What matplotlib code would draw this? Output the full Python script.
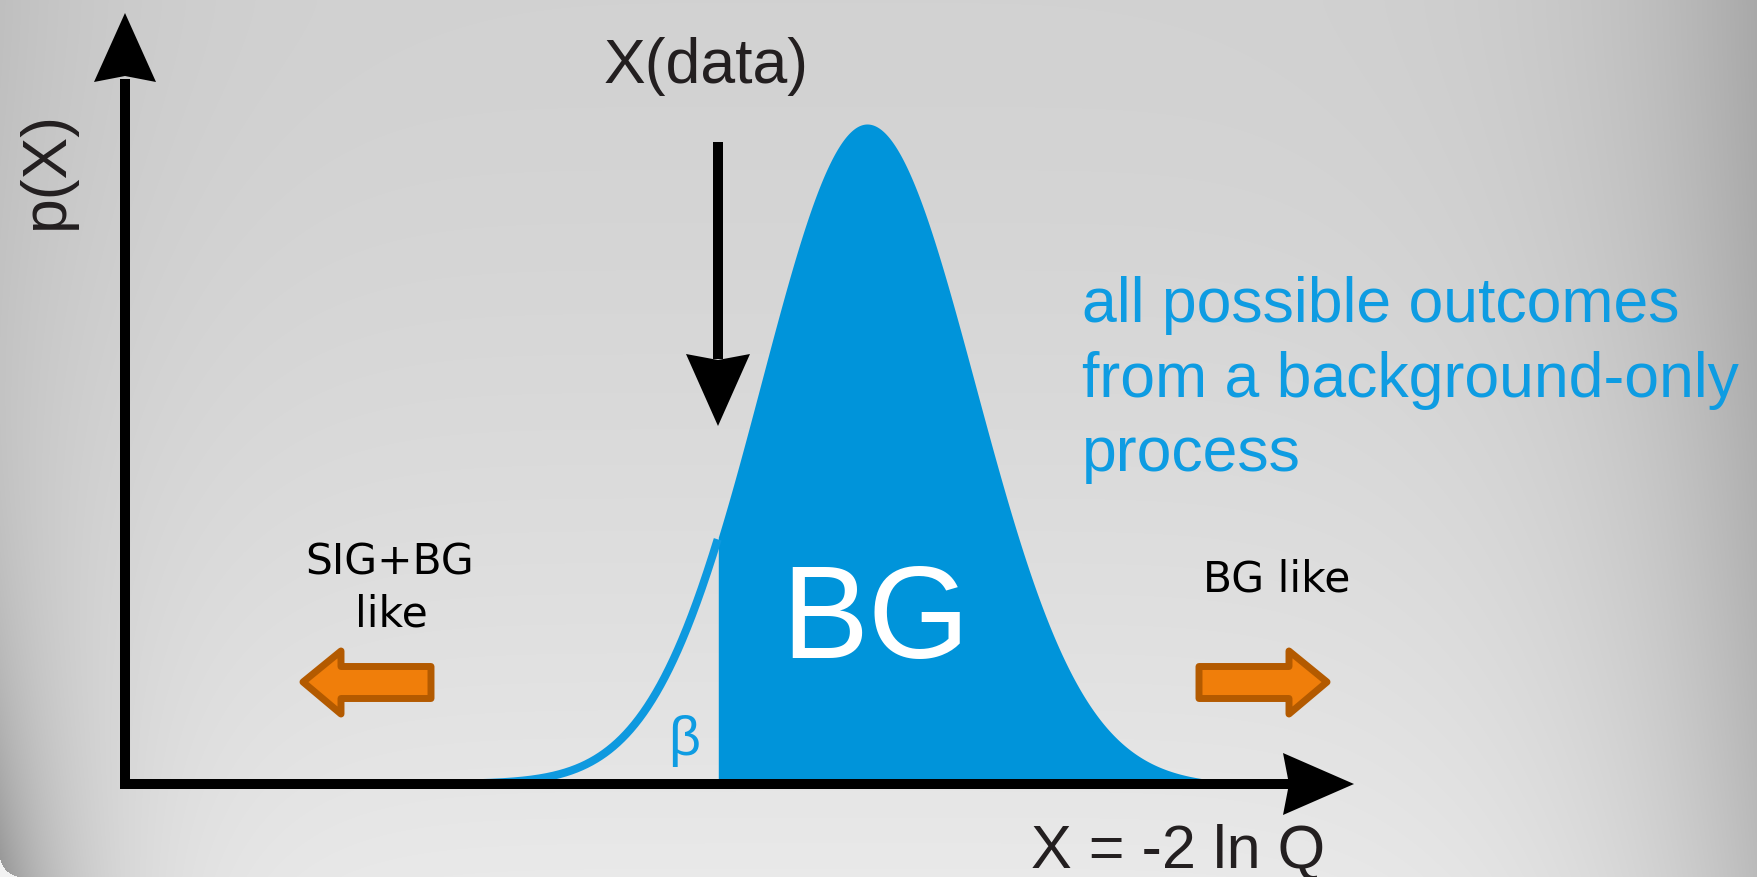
import numpy as np
import matplotlib
matplotlib.use("Agg")
import matplotlib.pyplot as plt
from matplotlib.patches import Polygon
from matplotlib.lines import Line2D

W, H, DPI = 1758, 878, 100

# Background-only distribution of the test statistic (split normal, peak normalised to 1)
bg_mean = 0.0
bg_sigma_left = 1.06
bg_sigma_right = 1.08
x_observed = -1.49          # X(data)
x_axis_start = -7.42
x_axis_end = 4.87

# Labels
y_label = "p(X)"
x_label = "X = -2 ln Q"
obs_label = "X(data)"
fill_label = "BG"
tail_label = "\u03b2"
left_label = ["SIG+BG", "like"]
right_label = "BG like"
note_lines = ["all possible outcomes", "from a background-only", "process"]

BLUE_FILL = "#0094DA"
BLUE_LINE = "#0E99DF"
BLUE_TEXT = "#0E9CE2"
DARK = "#231F20"
ORANGE = "#F07E0A"
ORANGE_EDGE = "#B35A00"
ARIAL = ["Liberation Sans", "DejaVu Sans"]
VERDANA = ["DejaVu Sans"]

fig = plt.figure(figsize=(W / DPI, H / DPI), dpi=DPI)

# ---- shaded backdrop -------------------------------------------------------
bg_ax = fig.add_axes([0, 0, 1, 1], zorder=0)
yy, xx = np.mgrid[0:H, 0:W] + 0.5
fx = 1 - 0.2 * np.abs((xx - 820) / 938) ** 6
fy = 0.90 + 0.10 * (yy / H) ** 1.5
corner = 0.25 * np.exp(-xx / 70) * (yy / H) ** 4
v = np.clip(0.915 * fx * fy - corner, 0, 1)
r = 22
outside = (xx < r) & (yy > H - r) & ((xx - r) ** 2 + (yy - (H - r)) ** 2 > r ** 2)
v[outside] = 0.95
bg_ax.imshow(np.dstack([v, v, v]), extent=(0, W, H, 0), aspect="auto", interpolation="bilinear")
bg_ax.set_xlim(0, W)
bg_ax.set_ylim(H, 0)
bg_ax.axis("off")

# ---- distribution ----------------------------------------------------------
ax = fig.add_axes([0, 0, 1, 1], zorder=1)
ax.patch.set_alpha(0)
ax.set_xlim(-8.67, 8.91)
ax.set_ylim(-0.14091, 1.18939)
ax.axis("off")

x = np.linspace(x_axis_start, x_axis_end, 2000)
sig = np.where(x < bg_mean, bg_sigma_left, bg_sigma_right)
pdf = np.exp(-0.5 * ((x - bg_mean) / sig) ** 2)

right = x >= x_observed
ax.fill_between(x[right], 0, pdf[right], color=BLUE_FILL, linewidth=0)
left = x <= x_observed
ax.plot(x[left], pdf[left], color=BLUE_LINE, lw=5.8, solid_capstyle="butt")


def to_px(xd, yd):
    dx, dy = ax.transData.transform((xd, yd))
    return dx, H - dy


# ---- overlay in pixel units ------------------------------------------------
ov = fig.add_axes([0, 0, 1, 1], zorder=2)
ov.patch.set_alpha(0)
ov.set_xlim(0, W)
ov.set_ylim(H, 0)
ov.axis("off")


def head(tip, d, length, half, notch, color="black"):
    tx, ty = tip
    dx, dy = d
    nx, ny = -dy, dx
    bx, by = tx - length * dx, ty - length * dy
    pts = [(tx, ty),
           (bx + half * nx, by + half * ny),
           (tx - (length - notch) * dx, ty - (length - notch) * dy),
           (bx - half * nx, by - half * ny)]
    ov.add_patch(Polygon(pts, closed=True, facecolor=color, edgecolor="none", zorder=5))


yaxis_x, _ = to_px(x_axis_start, 0)
_, axis_y = to_px(0, 0)
xaxis_tip, _ = to_px(x_axis_end, 0)
lw_axis = 10 * 72 / DPI

ov.add_line(Line2D([yaxis_x, yaxis_x, xaxis_tip - 64], [80, axis_y, axis_y],
                   color="black", lw=lw_axis, solid_joinstyle="miter",
                   solid_capstyle="butt", zorder=4))
head((yaxis_x, 14), (0, -1), 69, 31, 6)
head((xaxis_tip, axis_y), (1, 0), 71, 31, 6)

obs_x, _ = to_px(x_observed, 0)
ov.add_line(Line2D([obs_x, obs_x], [143, 360], color="black", lw=lw_axis,
                   solid_capstyle="butt", zorder=4))
head((obs_x, 427), (0, 1), 72, 32, 6)

# direction arrows
left_arrow = [(303, 683), (341, 652), (341, 667.5), (431, 667.5),
              (431, 699.5), (341, 699.5), (341, 715)]
ov.add_patch(Polygon(left_arrow, closed=True, facecolor=ORANGE, edgecolor=ORANGE_EDGE,
                     lw=5, joinstyle="round", zorder=5))
right_arrow = [(1630 - px, py) for px, py in left_arrow]
ov.add_patch(Polygon(right_arrow, closed=True, facecolor=ORANGE, edgecolor=ORANGE_EDGE,
                     lw=5, joinstyle="round", zorder=5))

# ---- text ------------------------------------------------------------------
ov.text(obs_x - 12, 83, obs_label, family=ARIAL, fontsize=45, color=DARK,
        ha="center", va="baseline", zorder=6)
ov.text(46, 170, y_label, family=ARIAL, fontsize=45, color=DARK, rotation=90,
        ha="center", va="center", zorder=6)
ov.text(1178, 868, x_label, family=ARIAL, fontsize=44, color=DARK,
        ha="center", va="baseline", zorder=6)
ov.text(876, 658, fill_label, family=ARIAL, fontsize=94, color="white",
        ha="center", va="baseline", zorder=6)
ov.text(684, 741, tail_label, family=ARIAL, fontsize=40, color=BLUE_TEXT,
        ha="center", va="center", zorder=6)
for line, yb in zip(note_lines, [322, 397, 471]):
    ov.text(1082, yb, line, family=ARIAL, fontsize=45, color=BLUE_TEXT,
            ha="left", va="baseline", zorder=6)
ov.text(390, 575, left_label[0], family=VERDANA, fontsize=30.5, color="black",
        ha="center", va="baseline", zorder=6)
ov.text(391, 627, left_label[1], family=VERDANA, fontsize=30.5, color="black",
        ha="center", va="baseline", zorder=6)
ov.text(1277, 592, right_label, family=VERDANA, fontsize=30.5, color="black",
        ha="center", va="baseline", zorder=6)

fig.savefig("out.png", dpi=DPI)
